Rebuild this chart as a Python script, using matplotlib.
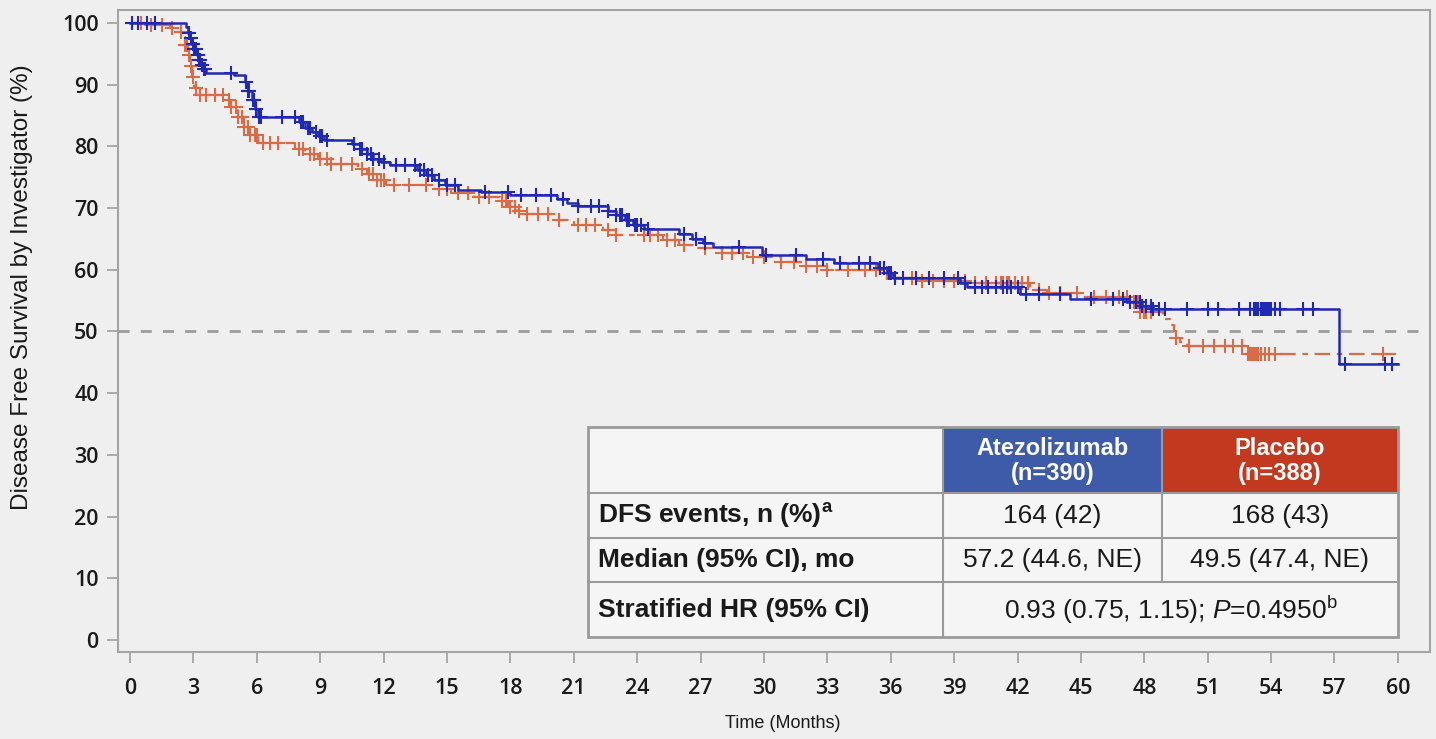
import numpy as np
import matplotlib
matplotlib.use("Agg")
import matplotlib.pyplot as plt
from matplotlib.patches import Rectangle

plt.rcParams['font.family'] = ['Liberation Sans', 'DejaVu Sans']
plt.rcParams['mathtext.fontset'] = 'custom'
plt.rcParams['mathtext.rm'] = 'Liberation Sans'
plt.rcParams['mathtext.it'] = 'Liberation Sans:italic'
plt.rcParams['mathtext.bf'] = 'Liberation Sans:bold'

# Kaplan-Meier steps: event times (months) and survival (%) after each step
atezo_t = [0, 2.65, 2.75, 2.85, 2.95, 3.05, 3.15, 3.25, 3.35, 3.45, 3.6, 4.9,
           5.45, 5.6, 5.75, 5.9, 6.05, 8.0, 8.3, 8.6, 8.9, 9.2, 10.5, 10.9,
           11.2, 11.5, 11.9, 12.3, 13.6, 14.0, 14.4, 14.9, 15.5, 16.6, 18.0,
           20.2, 20.7, 21.2, 22.6, 23.0, 23.4, 23.8, 24.3, 26.0, 26.6, 27.1,
           27.6, 29.9, 32.0, 33.3, 35.4, 35.8, 36.1, 39.3, 39.6, 42.1, 44.5,
           47.2, 47.9, 48.4, 57.2]
atezo_s = [100, 99.3, 98.4, 97.5, 96.6, 95.7, 94.8, 94.0, 93.2, 92.5, 91.9, 91.5,
           90.5, 89.0, 87.5, 86.0, 84.7, 84.0, 83.0, 82.3, 81.6, 81.0, 80.4, 79.6,
           78.7, 78.0, 77.4, 77.0, 76.2, 75.3, 74.5, 73.7, 73.0, 72.6, 72.1,
           71.4, 70.8, 70.3, 69.6, 68.8, 68.0, 67.3, 66.6, 65.8, 65.0, 64.3,
           63.7, 62.4, 61.7, 61.1, 60.3, 59.5, 58.7, 57.8, 57.2, 56.0, 55.2,
           54.7, 54.1, 53.6, 44.7]
atezo_end = 60.0

placebo_t = [0, 0.8, 1.9, 2.2, 2.45, 2.6, 2.75, 2.85, 2.95, 3.05, 3.15, 4.5,
             4.8, 5.1, 5.4, 5.7, 6.05, 7.8, 8.3, 8.9, 9.5, 10.8, 11.2, 11.6,
             12.1, 14.3, 15.2, 16.3, 17.5, 17.9, 18.3, 18.6, 20.3, 21.0, 22.4,
             23.0, 25.2, 26.0, 26.8, 28.0, 29.2, 30.8, 32.0, 33.0, 35.4, 36.1,
             37.5, 40.0, 42.6, 43.4, 45.0, 47.3, 47.8, 48.9, 49.2, 49.4, 49.5,
             49.7, 50.0, 52.8]
placebo_s = [100, 99.7, 99.2, 98.6, 97.7, 96.5, 94.8, 93.0, 91.2, 89.5, 88.3, 87.5,
             86.3, 84.8, 83.2, 81.8, 80.5, 79.6, 78.8, 78.0, 77.2, 76.4, 75.5, 74.6,
             73.8, 73.1, 72.4, 71.8, 71.2, 70.2, 69.5, 69.0, 68.1, 67.3, 66.5,
             65.6, 64.8, 64.0, 63.5, 62.7, 62.0, 61.2, 60.6, 60.0, 59.4, 58.7,
             58.2, 57.8, 56.8, 56.2, 55.6, 54.8, 53.2, 52.0, 51.0, 50.0, 49.0,
             48.3, 47.6, 46.4]
placebo_end = 59.9

# censoring times (months)
atezo_cens = [0.1, 0.4, 0.8, 1.2, 2.8, 2.9, 3.0, 3.05, 3.1, 3.2, 3.25, 3.3,
              3.4, 3.5, 3.55, 4.8, 5.5, 5.6, 5.65, 5.8, 5.85, 5.95, 6.1, 6.2,
              7.2, 7.8, 8.1, 8.2, 8.4, 8.5, 8.8, 9.0, 9.1, 9.3, 10.6, 10.9,
              11.0, 11.2, 11.4, 11.5, 11.8, 12.0, 12.6, 13.0, 13.5, 13.7, 13.9,
              14.1, 14.3, 14.6, 15.0, 15.4, 16.8, 17.9, 18.5, 19.2, 19.9, 20.5,
              21.2, 21.8, 22.2, 22.6, 23.0, 23.2, 23.3, 23.5, 23.6, 23.9, 24.0,
              24.2, 24.5, 26.2, 26.8, 27.2, 28.8, 30.1, 31.5, 32.8, 33.6, 34.5,
              35.0, 35.5, 35.7, 35.9, 36.0, 36.2, 36.6, 37.2, 37.8, 38.5, 39.2,
              39.5, 40.0, 40.3, 40.6, 41.0, 41.3, 41.5, 41.7, 42.0, 42.4, 43.0,
              44.0, 45.5, 46.5, 47.0, 47.3, 47.6, 47.8, 47.9, 48.1, 48.3, 48.4,
              48.7, 49.0, 50.0, 51.0, 51.5, 52.5, 53.0, 53.2, 53.3, 53.4, 53.5,
              53.6, 53.7, 53.8, 53.9, 54.0, 54.2, 54.4, 55.5, 56.0, 57.5, 59.4,
              59.7]
placebo_cens = [0.5, 1.0, 1.5, 2.0, 2.4, 2.6, 2.7, 2.8, 2.9, 3.0, 3.1, 3.3,
                3.6, 4.0, 4.4, 4.7, 4.8, 5.0, 5.1, 5.3, 5.4, 5.6, 5.7, 5.9,
                6.0, 6.3, 6.6, 7.0, 8.0, 8.2, 8.5, 8.7, 9.0, 9.3, 9.5, 10.0,
                10.5, 11.0, 11.3, 11.5, 11.7, 11.9, 12.0, 12.5, 13.2, 14.0, 14.6,
                15.0, 15.5, 16.0, 16.5, 17.0, 17.6, 17.8, 18.0, 18.2, 18.4, 18.8,
                19.3, 19.8, 20.3, 21.2, 21.6, 22.0, 22.6, 23.0, 24.3, 24.6, 25.0,
                25.4, 25.8, 26.2, 27.2, 28.0, 28.5, 29.0, 29.5, 30.0, 30.8, 31.4,
                32.0, 32.5, 33.0, 34.0, 34.8, 35.3, 35.8, 36.2, 36.6, 37.0, 37.5,
                38.0, 38.5, 39.0, 39.5, 40.0, 40.5, 41.0, 41.2, 41.3, 41.5, 41.6,
                41.9, 42.2, 42.5, 43.0, 43.5, 44.0, 44.8, 45.6, 46.2, 46.8, 47.2,
                47.5, 47.7, 47.8, 48.0, 48.1, 48.3, 49.5, 50.1, 50.8, 51.3, 51.8,
                52.2, 52.6, 52.9, 53.0, 53.1, 53.2, 53.3, 53.4, 53.5, 53.7, 53.9,
                54.2, 59.3]

x_ticks = list(range(0, 61, 3))
y_ticks = list(range(0, 101, 10))

# summary table
row_labels = ['DFS events, n (%)$^{\\mathbf{a}}$',
              'Median (95% CI), mo',
              'Stratified HR (95% CI)']
arm_headers = ['Atezolizumab\n(n=390)', 'Placebo\n(n=388)']
atezo_vals = ['164 (42)', '57.2 (44.6, NE)']
placebo_vals = ['168 (43)', '49.5 (47.4, NE)']
hr_text = '0.93 (0.75, 1.15); $\\mathit{P}$=0.4950$^{\\mathrm{b}}$'

BG = '#efefef'
BLUE = '#2129b4'
ORANGE = '#d86c47'
GRID = '#a4a4a4'
INK = '#1a1a1a'


def surv_at(times, surv, t):
    idx = np.searchsorted(np.asarray(times), np.asarray(t), side='right') - 1
    return np.asarray(surv)[idx]


W, H = 1436, 739
fig = plt.figure(figsize=(W / 100, H / 100), dpi=100, facecolor=BG)
ax = fig.add_axes([118 / W, 1 - 652 / H, (1430 - 118) / W, (652 - 10) / H])
ax.set_facecolor(BG)

ax.axhline(50, color='#9c9c9c', lw=2.0, ls=(0, (4, 4)), zorder=1)

ax.step(atezo_t + [atezo_end], atezo_s + [atezo_s[-1]], where='post',
        color=BLUE, lw=1.8, zorder=4)
ax.plot(atezo_cens, surv_at(atezo_t, atezo_s, atezo_cens), '+',
        color=BLUE, ms=10, mew=1.5, zorder=4)

ax.step(placebo_t + [placebo_end], placebo_s + [placebo_s[-1]], where='post',
        color=ORANGE, lw=1.6, ls=(0, (7, 3, 2.5, 3)), zorder=3)
ax.plot(placebo_cens, surv_at(placebo_t, placebo_s, placebo_cens), '+',
        color=ORANGE, ms=10, mew=1.5, zorder=3)

ax.set_xlim(-0.57, 61.52)
ax.set_ylim(-1.94, 102.1)
ax.set_xticks(x_ticks)
ax.set_yticks(y_ticks)
for sp in ax.spines.values():
    sp.set_color(GRID)
    sp.set_linewidth(1.5)
ax.tick_params(axis='both', colors=GRID, length=8, width=1.3,
               labelcolor=INK, labelsize=15.5)
ax.tick_params(axis='x', pad=11)
ax.tick_params(axis='y', pad=6)
for lab in ax.get_xticklabels() + ax.get_yticklabels():
    lab.set_fontweight('semibold')
    lab.set_family(['Open Sans', 'Liberation Sans', 'DejaVu Sans'])

fig.text(22 / W, 1 - 287 / H, 'Disease Free Survival by Investigator (%)',
         rotation=90, ha='center', va='center', fontsize=17.5, color=INK)
fig.text(783 / W, 1 - 724 / H, 'Time (Months)', ha='center', va='center',
         fontsize=13, color=INK)

# table overlay in pixel coordinates
tab = fig.add_axes([0, 0, 1, 1], facecolor='none')
tab.set_xlim(0, W)
tab.set_ylim(H, 0)
tab.axis('off')

cols = [588, 943, 1162, 1398]
rows = [427, 493, 538, 582, 637]
CELL = '#f5f5f5'
EDGE = '#9a9a9a'

tab.add_patch(Rectangle((cols[0], rows[0]), cols[3] - cols[0], rows[4] - rows[0],
                        facecolor=CELL, edgecolor='none'))
tab.add_patch(Rectangle((cols[1], rows[0]), cols[2] - cols[1], rows[1] - rows[0],
                        facecolor='#3d5ba9', edgecolor='none'))
tab.add_patch(Rectangle((cols[2], rows[0]), cols[3] - cols[2], rows[1] - rows[0],
                        facecolor='#c3391f', edgecolor='none'))
for y in rows[1:-1]:
    tab.plot([cols[0], cols[3]], [y, y], color=EDGE, lw=1.5)
tab.plot([cols[1], cols[1]], [rows[0], rows[4]], color=EDGE, lw=1.5)
tab.plot([cols[2], cols[2]], [rows[0], rows[3]], color=EDGE, lw=1.5)
tab.add_patch(Rectangle((cols[0], rows[0]), cols[3] - cols[0], rows[4] - rows[0],
                        facecolor='none', edgecolor=EDGE, lw=2.0))

hx = [(cols[1] + cols[2]) / 2, (cols[2] + cols[3]) / 2]
hy = (rows[0] + rows[1]) / 2
for x, txt in zip(hx, arm_headers):
    tab.text(x, hy + 1, txt, ha='center', va='center', color='white',
             fontsize=17, fontweight='bold', linespacing=1.1)

for i, lab in enumerate(row_labels):
    yc = (rows[i + 1] + rows[i + 2]) / 2
    tab.text(598, yc, lab, ha='left', va='center', fontsize=19,
             fontweight='bold', color=INK)
for i in range(2):
    yc = (rows[i + 1] + rows[i + 2]) / 2
    tab.text(hx[0], yc, atezo_vals[i], ha='center', va='center',
             fontsize=19, color=INK)
    tab.text(hx[1], yc, placebo_vals[i], ha='center', va='center',
             fontsize=19, color=INK)
tab.text((cols[1] + cols[3]) / 2, (rows[3] + rows[4]) / 2, hr_text,
         ha='center', va='center', fontsize=19, color=INK)

fig.savefig('out.png', dpi=100, facecolor=BG)
